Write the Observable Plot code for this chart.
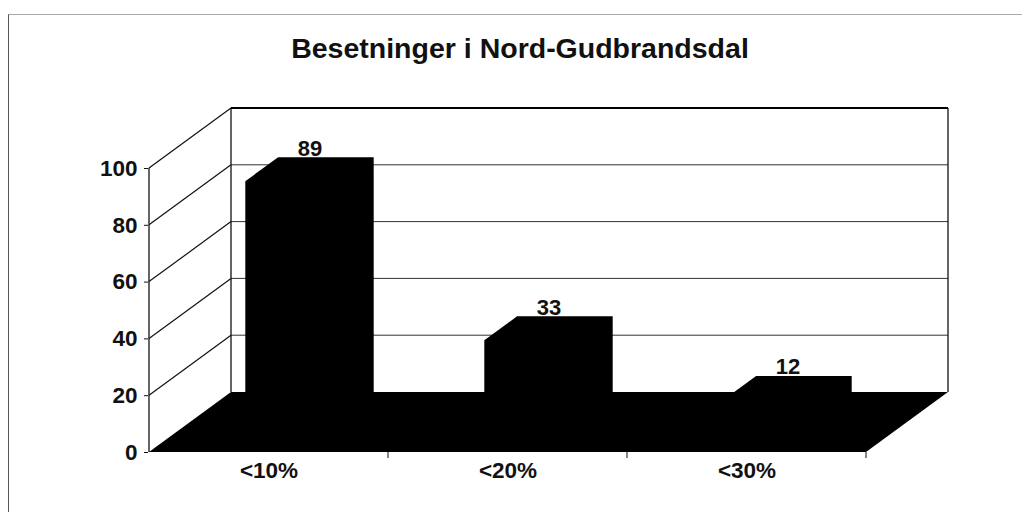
<!DOCTYPE html>
<html><head><meta charset="utf-8">
<script src="https://cdn.jsdelivr.net/npm/d3@7"></script>
<script src="https://cdn.jsdelivr.net/npm/@observablehq/plot@0.6"></script>
<style>
body{margin:0;background:#fff;}
#wrap{position:relative;width:1022px;height:512px;overflow:hidden;font-family:"Liberation Sans",Arial,sans-serif;}
#border{position:absolute;left:8px;top:14px;right:-2px;bottom:-2px;border-left:1px solid #555;border-top:1px solid #aaa;}
#chart{position:absolute;left:0;top:0;}
#title{position:absolute;left:0;top:34px;width:1040px;text-align:center;font-size:28.5px;line-height:28px;font-weight:bold;color:#111;}
</style></head><body>
<div id="wrap"><div id="border"></div><div id="chart"></div><div id="title"></div></div>
<script>
const title = "Besetninger i Nord-Gudbrandsdal";
const categories = ["<10%", "<20%", "<30%"];
const values = [89, 33, 12];
const yTicks = [0, 20, 40, 60, 80, 100];

const data = categories.map((c, i) => ({category: c, value: values[i]}));
document.getElementById("title").textContent = title;

// oblique depth projection (pixels per full depth)
const DX = 82, DY = -60;
const Z0 = 0.3, Z1 = 0.7, B0 = 0.3, B1 = 0.7;

function scene(index, scales) {
  const x = scales.x, y = scales.y;
  const step = x(categories[1]) - x(categories[0]);
  const bw = typeof x.bandwidth === "function" ? x.bandwidth() : step;
  const x0 = x(categories[0]);
  const x1 = x(categories[categories.length - 1]) + bw;
  const P = (px, v, z) => [px + DX * z, y(v) + DY * z];
  const g = d3.create("svg:g");
  const line = (a, b, stroke, w) => g.append("line")
    .attr("x1", a[0]).attr("y1", a[1]).attr("x2", b[0]).attr("y2", b[1])
    .attr("stroke", stroke).attr("stroke-width", w);
  const vmax = yTicks[yTicks.length - 1];
  // back wall gridlines
  yTicks.slice(1, -1).forEach(v => line(P(x0, v, 1), P(x1, v, 1), "#333", 1));
  // side wall diagonals
  yTicks.slice(1).forEach(v => line(P(x0, v, 0), P(x0, v, 1), "#111", 1.2));
  // wall edges
  line(P(x0, 0, 0), P(x0, vmax, 0), "#111", 1.3);
  line(P(x0, 0, 1), P(x0, vmax, 1), "#111", 1.3);
  line(P(x1, 0, 1), P(x1, vmax, 1), "#111", 1.3);
  line(P(x0, vmax, 1), P(x1, vmax, 1), "#000", 2.2);
  // floor
  g.append("polygon")
    .attr("points", [P(x0, 0, 0), P(x0, 0, 1), P(x1, 0, 1), P(x1, 0, 0)].map(p => p.join(",")).join(" "))
    .attr("fill", "#000");
  // category boundary ticks
  categories.forEach((c, i) => {
    const bx = x(c) + bw;
    const p = P(bx, 0, 0);
    line(p, [p[0], p[1] + 6], "#111", 1);
  });
  // bars
  data.forEach(d => {
    const s = x(d.category) + B0 * bw, e = x(d.category) + B1 * bw, v = d.value;
    const pts = [P(s, 0, Z0), P(s, v, Z0), P(s, v, Z1), P(e, v, Z1), P(e, 0, Z1), P(e, 0, Z0)];
    g.append("polygon").attr("points", pts.map(p => p.join(",")).join(" ")).attr("fill", "#000");
  });
  return g.node();
}

const font = "Liberation Sans, Arial, sans-serif";
const chart = Plot.plot({
  width: 1022,
  height: 512,
  marginLeft: 148,
  marginRight: 156,
  marginTop: 168,
  marginBottom: 60,
  style: {fontFamily: font, background: "transparent", overflow: "visible"},
  x: {type: "band", domain: categories, padding: 0, label: null},
  y: {domain: [0, 100], label: null},
  marks: [
    scene,
    Plot.axisY({ticks: yTicks, tickSize: 4, tickPadding: 7, fontSize: 22.5, fontWeight: "bold", fill: "#111", stroke: "#111", label: null}),
    Plot.axisX({tickSize: 0, tickPadding: 10, fontSize: 22.5, fontWeight: "bold", fill: "#111", label: null}),
    Plot.text(data, {x: "category", y: "value", text: d => String(d.value), dx: 41, dy: -44, lineAnchor: "bottom", fontSize: 22, fontWeight: "bold", fill: "#111"})
  ]
});
document.getElementById("chart").appendChild(chart);
</script>
</body></html>
